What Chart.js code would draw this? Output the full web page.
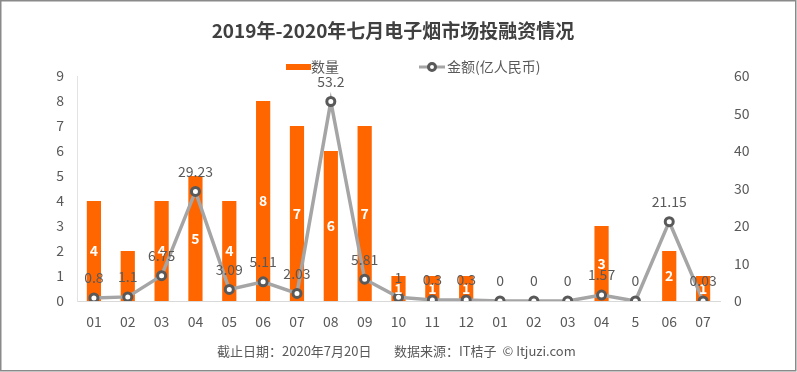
<!DOCTYPE html>
<html>
<head>
<meta charset="utf-8">
<script src="https://cdn.jsdelivr.net/npm/chart.js@4.4.1/dist/chart.umd.min.js"></script>
<style>
  html, body { margin: 0; padding: 0; background: #ffffff; }
  #wrap { width: 797px; height: 372px; position: relative; }
</style>
</head>
<body>
<div id="wrap"><canvas id="c" width="797" height="372"></canvas></div>
<script>
const titleText = '2019年-2020年七月电子烟市场投融资情况';
const footerLeft = '截止日期：2020年7月20日';
const footerRight = '数据来源：IT桔子  © Itjuzi.com';
const categories = ['01','02','03','04','05','06','07','08','09','10','11','12','01','02','03','04','5','06','07'];
const counts = [4,2,4,5,4,8,7,6,7,1,1,1,0,0,0,3,0,2,1];
// labels shown inside the bars (the reference shows none on the 02 bar)
const countLabels = ['4','','4','5','4','8','7','6','7','1','1','1','','','','3','','2','1'];
const amounts = [0.8,1.1,6.75,29.23,3.09,5.11,2.03,53.2,5.81,1,0.3,0.3,0,0,0,1.57,0,21.15,0.03];
const countTicks = [0,1,2,3,4,5,6,7,8,9];
const amountTicks = [0,10,20,30,40,50,60];

const FONT = '"Noto Sans CJK SC", "Noto Sans", sans-serif';
const ORANGE = '#FF6600';
const LINE = '#A5A5A5';
const MARK = '#595959';
const TXT = '#595959';

const decor = {
  id: 'decor',
  beforeDraw(chart) {
    const ctx = chart.ctx;
    ctx.save();
    ctx.fillStyle = '#ffffff';
    ctx.fillRect(0, 0, chart.width, chart.height);
    ctx.restore();
  },
  afterDatasetsDraw(chart) {
    const ctx = chart.ctx;
    ctx.save();
    const barMeta = chart.getDatasetMeta(0);
    ctx.font = 'bold 14px ' + FONT;
    ctx.fillStyle = '#ffffff';
    ctx.textAlign = 'center';
    ctx.textBaseline = 'middle';
    barMeta.data.forEach((el, i) => {
      const t = countLabels[i];
      if (!t) return;
      ctx.fillText(t, el.x, (el.y + el.base) / 2);
    });
    const lineMeta = chart.getDatasetMeta(1);
    ctx.font = '14px ' + FONT;
    ctx.fillStyle = TXT;
    lineMeta.data.forEach((el, i) => {
      ctx.fillText(String(amounts[i]), el.x, el.y - 20);
    });
    ctx.restore();
  },
  afterDraw(chart) {
    const ctx = chart.ctx;
    ctx.save();
    ctx.font = 'bold 19px ' + FONT;
    ctx.fillStyle = '#404040';
    ctx.textAlign = 'center';
    ctx.textBaseline = 'middle';
    ctx.fillText(titleText, 393, 31);
    const ds = chart.data.datasets;
    ctx.fillStyle = ORANGE;
    ctx.fillRect(286, 64, 25, 6);
    ctx.font = '14px ' + FONT;
    ctx.fillStyle = TXT;
    ctx.textAlign = 'left';
    ctx.fillText(ds[0].label, 311, 67);
    ctx.strokeStyle = LINE;
    ctx.lineWidth = 3;
    ctx.beginPath();
    ctx.moveTo(419, 67); ctx.lineTo(445, 67); ctx.stroke();
    ctx.beginPath();
    ctx.arc(432, 67, 3.5, 0, Math.PI * 2);
    ctx.fillStyle = '#ffffff';
    ctx.fill();
    ctx.lineWidth = 3;
    ctx.strokeStyle = MARK;
    ctx.stroke();
    ctx.fillStyle = TXT;
    ctx.fillText(ds[1].label, 447, 67);
    ctx.font = '13px ' + FONT;
    ctx.fillStyle = TXT;
    ctx.textAlign = 'left';
    ctx.fillText(footerLeft, 217, 351);
    ctx.fillText(footerRight, 394, 351);
    ctx.strokeStyle = '#8a8a8a';
    ctx.lineWidth = 1.5;
    ctx.strokeRect(0.75, 0.75, 795, 370);
    ctx.restore();
  }
};

new Chart(document.getElementById('c'), {
  type: 'bar',
  data: {
    labels: categories,
    datasets: [
      {
        type: 'bar',
        label: '数量',
        data: counts,
        backgroundColor: ORANGE,
        yAxisID: 'y',
        barPercentage: 0.42,
        categoryPercentage: 1.0,
        order: 1
      },
      {
        type: 'line',
        label: '金额(亿人民币)',
        data: amounts,
        borderColor: LINE,
        borderWidth: 3.5,
        pointRadius: 4,
        pointBorderWidth: 3,
        pointBackgroundColor: '#ffffff',
        pointBorderColor: MARK,
        tension: 0,
        yAxisID: 'y1',
        order: 0
      }
    ]
  },
  options: {
    responsive: false,
    animation: false,
    devicePixelRatio: 1,
    layout: { padding: { top: 76, bottom: 41, left: 0, right: 0 } },
    plugins: { legend: { display: false }, title: { display: false }, tooltip: { enabled: false } },
    scales: {
      x: {
        grid: { display: false, drawTicks: false },
        border: { display: true, color: '#d9d9d9', width: 1 },
        ticks: { font: { family: FONT, size: 14 }, color: TXT, padding: 12, maxRotation: 0, autoSkip: false },
        afterFit(s) { s.height = 30; }
      },
      y: {
        position: 'left',
        min: 0, max: 9,
        afterBuildTicks(s) { s.ticks = countTicks.map(v => ({ value: v })); },
        grid: { display: false, drawTicks: false },
        border: { display: true, color: '#e3e3e3', width: 1 },
        ticks: { font: { family: FONT, size: 14 }, color: TXT, padding: 13 },
        afterFit(s) { s.width = 77; }
      },
      y1: {
        position: 'right',
        min: 0, max: 60,
        afterBuildTicks(s) { s.ticks = amountTicks.map(v => ({ value: v })); },
        grid: { display: false, drawTicks: false },
        border: { display: false },
        ticks: { font: { family: FONT, size: 14 }, color: TXT, padding: 14 },
        afterFit(s) { s.width = 77; }
      }
    }
  },
  plugins: [decor]
});
</script>
</body>
</html>
